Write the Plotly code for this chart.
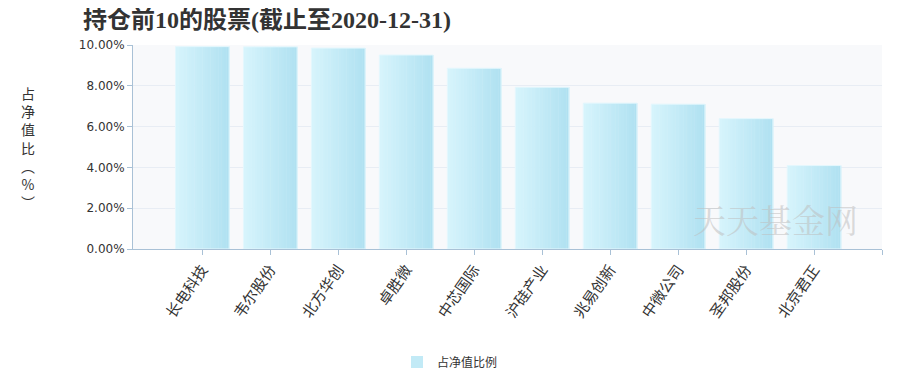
import plotly.graph_objects as go

stocks = ["长电科技", "韦尔股份", "北方华创", "卓胜微", "中芯国际",
          "沪硅产业", "兆易创新", "中微公司", "圣邦股份", "北京君正"]
ratios = [9.92, 9.91, 9.85, 9.51, 8.86, 7.93, 7.15, 7.10, 6.39, 4.09]
y_ticks = [0, 2, 4, 6, 8, 10]
y_tick_text = ["%.2f%%" % v for v in y_ticks]
series_name = "占净值比例"
title_text = "持仓前10的股票(截止至2020-12-31)"
y_title = "占<br>净<br>值<br>比<br>︵<br>%<br>︶"
watermark = "天天基金网"

# the page body has an 8px default margin, so the figure is drawn 8px in
W, H = 903, 368
BAR_W = 0.79
N_SLICES = 20
C0 = (214, 244, 252)
C1 = (176, 225, 241)

x_idx = list(range(len(stocks)))
fig = go.Figure()
# horizontal gradient emulated with thin overlaid bar slices
for k in range(N_SLICES):
    t = k / (N_SLICES - 1)
    col = "rgb(%d,%d,%d)" % tuple(round(a + (b - a) * t) for a, b in zip(C0, C1))
    fig.add_trace(go.Bar(
        x=x_idx, y=ratios, name=series_name,
        width=BAR_W / N_SLICES + 0.006,
        offset=-BAR_W / 2 + k * BAR_W / N_SLICES,
        marker=dict(color=col, line=dict(width=0)),
        showlegend=(k == N_SLICES // 2), hoverinfo="skip" if k else None,
    ))
# thin light outline around each bar
fig.add_trace(go.Bar(
    x=x_idx, y=ratios, name=series_name, width=BAR_W,
    marker=dict(color="rgba(0,0,0,0)", line=dict(color="#e4f7fd", width=1)),
    showlegend=False, hoverinfo="skip",
))

fig.update_layout(
    width=W, height=H, barmode="overlay",
    margin=dict(l=125, r=29, t=37, b=127, autoexpand=False),
    paper_bgcolor="white", plot_bgcolor="#f8f9fb",
    title=dict(text="<b>" + title_text + "</b>", x=75 / W, xref="container", xanchor="left",
               y=1 - 12 / H, yref="container", yanchor="middle",
               font=dict(family="Liberation Serif, Noto Sans CJK SC", size=24, color="#333333")),
    showlegend=True,
    legend=dict(orientation="h", xref="container", x=442 / W, xanchor="center",
                yref="container", y=1 - 354 / H, yanchor="middle",
                font=dict(family="Noto Sans CJK SC", size=12, color="#333333")),
)

fig.update_xaxes(
    range=[-1.02, 10], tickmode="array", tickvals=x_idx + [10],
    ticktext=stocks + [""], tickangle=-55, automargin=False,
    showline=True, linecolor="#a9c1d6", linewidth=1,
    ticks="outside", ticklen=5, tickcolor="#a9c1d6",
    showgrid=False, zeroline=False,
    tickfont=dict(family="Noto Sans CJK SC", size=15, color="#333333"),
)
fig.update_yaxes(
    range=[0, 10], tickmode="array", tickvals=y_ticks, ticktext=y_tick_text,
    showline=True, linecolor="#a9c1d6", linewidth=1, automargin=False,
    ticks="outside", ticklen=5, tickcolor="#a9c1d6",
    showgrid=True, gridcolor="#e8edf4", gridwidth=1, zeroline=False,
    tickfont=dict(family="DejaVu Sans", size=12, color="#333333"),
)

fig.add_annotation(text=y_title, xref="paper", yref="paper", x=-0.14, y=0.5,
                   xanchor="center", yanchor="middle", showarrow=False,
                   font=dict(family="Noto Sans CJK SC", size=14, color="#333333"))
fig.add_annotation(text=watermark, xref="paper", yref="paper", x=0.97, y=0.15,
                   xanchor="right", yanchor="middle", showarrow=False,
                   font=dict(family="Noto Serif CJK SC, Noto Sans CJK SC", size=33,
                             color="rgba(190,190,190,0.55)"))

fig.write_html("out.html")
